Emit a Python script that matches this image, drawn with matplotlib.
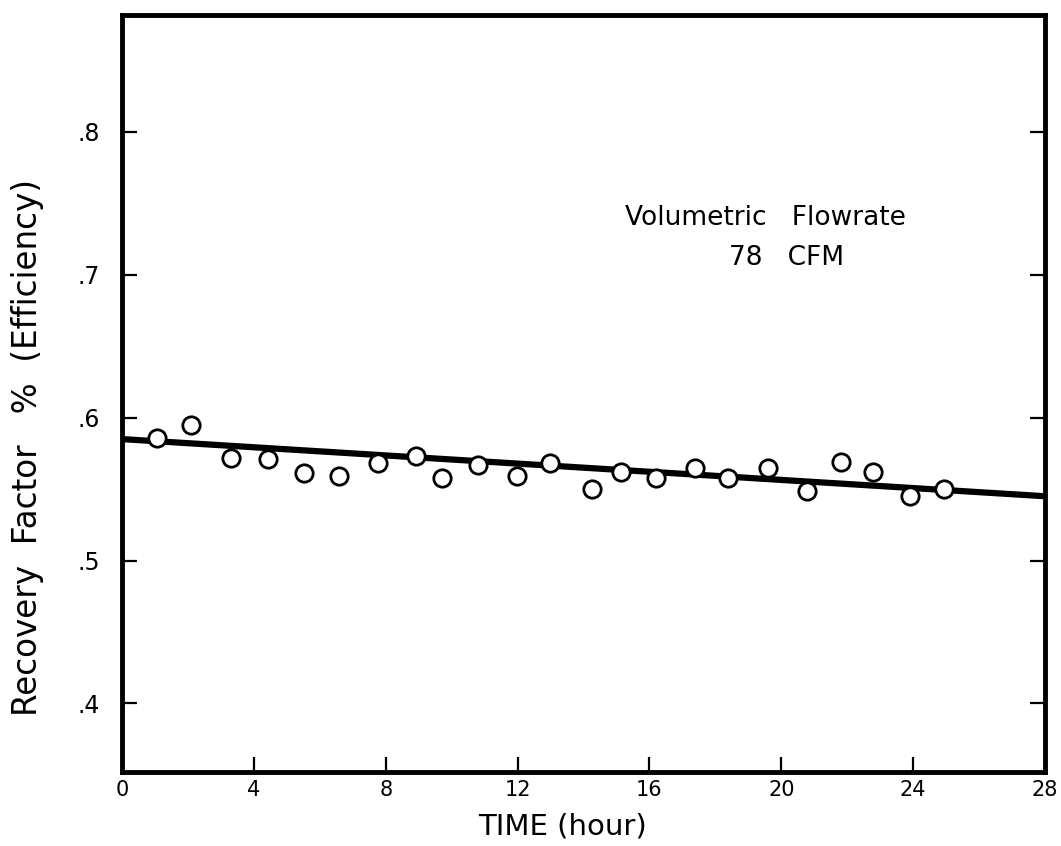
import matplotlib
matplotlib.use("Agg")
import matplotlib.pyplot as plt

time_hr = [1.07, 2.08, 3.30, 4.44, 5.52, 6.59, 7.78, 8.92, 9.70, 10.81, 11.97, 12.98,
           14.25, 15.13, 16.20, 17.38, 18.38, 19.59, 20.79, 21.81, 22.79, 23.91, 24.92]
recovery = [0.586, 0.595, 0.572, 0.571, 0.561, 0.559, 0.568, 0.573, 0.558, 0.567, 0.559, 0.568,
            0.550, 0.562, 0.558, 0.565, 0.558, 0.565, 0.549, 0.569, 0.562, 0.545, 0.550]

# fitted straight line
fit_time = [0, 28]
fit_recovery = [0.585, 0.545]

x_ticks = [0, 4, 8, 12, 16, 20, 24, 28]
y_ticks = [0.4, 0.5, 0.6, 0.7, 0.8]
y_tick_labels = [".4", ".5", ".6", ".7", ".8"]

font = ["DejaVu Sans"]

fig = plt.figure(figsize=(10.61, 8.46), dpi=100)
ax = fig.add_axes([0.115, 0.0875, 0.870, 0.895])

ax.plot(fit_time, fit_recovery, color="black", linewidth=4.5, solid_capstyle="butt", zorder=2)
ax.plot(time_hr, recovery, linestyle="none", marker="o", markersize=12.5,
        markerfacecolor="white", markeredgecolor="black", markeredgewidth=2.0, zorder=3)

ax.set_xlim(0, 28)
ax.set_ylim(0.352, 0.882)
ax.set_xticks(x_ticks)
ax.set_xticklabels([str(t) for t in x_ticks], family=font, fontsize=15)
ax.set_yticks(y_ticks)
ax.set_yticklabels(y_tick_labels, family=font, fontsize=17)

ax.tick_params(axis="both", direction="in", length=11, width=1.6, right=True, top=False)
ax.tick_params(axis="x", pad=6)
ax.tick_params(axis="y", pad=16)

for side in ax.spines.values():
    side.set_linewidth(3.5)

ax.set_xlabel("TIME (hour)", family=font, fontsize=21)
ax.xaxis.set_label_coords(0.477, -0.054)
ax.set_ylabel("Recovery  Factor   %  (Efficiency)", family=font, fontsize=23.5)
ax.yaxis.set_label_coords(-0.085, 0.428)

ax.text(15.26, 0.740, "Volumetric   Flowrate", family=font, fontsize=19,
        ha="left", va="center")
ax.text(18.4, 0.712, "78   CFM", family=font, fontsize=19, ha="left", va="center")

fig.savefig("out.png", dpi=100)
